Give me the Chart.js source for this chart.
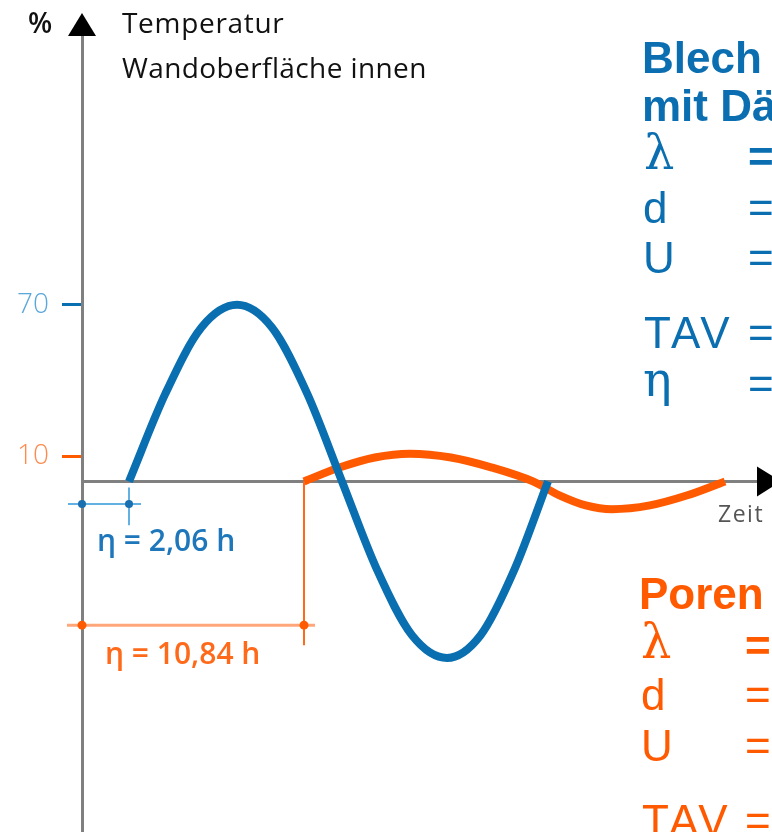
<!DOCTYPE html>
<html lang="de">
<head>
<meta charset="utf-8">
<title>Temperatur Wandoberfläche innen</title>
<script src="https://cdn.jsdelivr.net/npm/chart.js@4"></script>
<style>
  html, body { margin: 0; padding: 0; background: #fff; }
  body { position: relative; width: 772px; height: 832px; overflow: hidden; }
  #chart { position: absolute; left: 0; top: 0; }
  .lbl { position: absolute; white-space: nowrap; line-height: 1; }
  .din { font-family: 'Open Sans', sans-serif; }
  .arial { font-family: 'Liberation Sans', Arial, sans-serif; font-size: 44px; font-kerning: none; }
  .sym { font-family: 'DejaVu Serif', 'Liberation Serif', serif; font-size: 48px; }
  .blue { color: #0a6eb0; }
  .orange { color: #ff5a00; }
  b { font-weight: 700; }
</style>
</head>
<body>
<canvas id="chart" width="772" height="832"></canvas>

<div class="lbl din" style="left:28px; top:8px; font-size:28px; font-weight:600; color:#111">%</div>
<div class="lbl din" style="left:122px; top:8px; font-size:28px; letter-spacing:0.7px; color:#111">Temperatur</div>
<div class="lbl din" style="left:122px; top:53px; font-size:28px; letter-spacing:0.4px; color:#111">Wandoberfläche innen</div>
<div class="lbl din" style="left:718px; top:502px; font-size:23px; letter-spacing:1.5px; color:#555">Zeit</div>
<div class="lbl din" style="left:97px; top:525px; font-size:30px; font-weight:600; color:#1e77ba">η = 2,06 h</div>
<div class="lbl din" style="left:105px; top:638px; font-size:30px; font-weight:600; color:#ff6a1a">η = 10,84 h</div>

<div class="lbl arial blue" style="left:642px; top:36px"><b>Blech</b></div>
<div class="lbl arial blue" style="left:642px; top:84px"><b>mit Dä</b></div>
<div class="lbl sym blue" style="left:644px; top:128px">λ</div>
<div class="lbl arial blue" style="left:748px; top:135px"><b>=</b></div>
<div class="lbl arial blue" style="left:643px; top:186px">d</div>
<div class="lbl arial blue" style="left:748px; top:186px">=</div>
<div class="lbl arial blue" style="left:643px; top:236px">U</div>
<div class="lbl arial blue" style="left:748px; top:236px">=</div>
<div class="lbl arial blue" style="left:644px; top:311px">TAV</div>
<div class="lbl arial blue" style="left:748px; top:311px">=</div>
<div class="lbl sym blue" style="left:643px; top:355px">η</div>
<div class="lbl arial blue" style="left:748px; top:362px">=</div>

<div class="lbl arial orange" style="left:639px; top:572px"><b>Poren</b></div>
<div class="lbl sym orange" style="left:641px; top:617px">λ</div>
<div class="lbl arial orange" style="left:745px; top:624px"><b>=</b></div>
<div class="lbl arial orange" style="left:641px; top:673px">d</div>
<div class="lbl arial orange" style="left:745px; top:673px">=</div>
<div class="lbl arial orange" style="left:641px; top:724px">U</div>
<div class="lbl arial orange" style="left:745px; top:724px">=</div>
<div class="lbl arial orange" style="left:642px; top:799px">TAV</div>
<div class="lbl arial orange" style="left:745px; top:799px">=</div>

<script>
// time in hours, temperature amplitude in %
const blueHours = [2.35, 4.18, 5.97, 7.75, 9.5, 11.25, 13.0, 14.75, 16.5, 18.25, 19.93, 21.62, 23.3];
const blueTemp = [0, 35, 61, 70, 61, 35, 0, -35, -61, -70, -61, -35, 0];

const orangeHours = [11.1, 12.87, 14.64, 16.4, 18.45, 20.5, 22.55, 23.87, 25.19, 26.5, 28.39, 30.27, 32.15];
const orangeTemp = [0, 5.5, 9.5, 11, 9.5, 5.5, 0, -5.5, -9.5, -11, -9.5, -5.5, 0];

const yTicks = [10, 70];

const BLUE = '#0a6fb0';
const ORANGE = '#ff5a00';

function toPoints(xs, ys) {
  return xs.map((x, i) => ({ x: x, y: ys[i] }));
}

function line(ctx, x1, y1, x2, y2) {
  ctx.beginPath();
  ctx.moveTo(x1, y1);
  ctx.lineTo(x2, y2);
  ctx.stroke();
}

function dot(ctx, x, y, r) {
  ctx.beginPath();
  ctx.arc(x, y, r, 0, Math.PI * 2);
  ctx.fill();
}

const axisLine = {
  id: 'axisLine',
  beforeDatasetsDraw(chart) {
    const { ctx, chartArea, scales: { y } } = chart;
    const y0 = y.getPixelForValue(0);
    ctx.save();
    ctx.strokeStyle = '#808080';
    ctx.lineWidth = 3;
    line(ctx, chartArea.left, y0, chartArea.right, y0);
    ctx.restore();
  }
};

const decor = {
  id: 'decor',
  afterDatasetsDraw(chart) {
    const { ctx, chartArea, scales: { x, y } } = chart;
    const y0 = y.getPixelForValue(0);
    const ax = chartArea.left;
    ctx.save();

    // arrow heads
    ctx.fillStyle = '#000';
    ctx.beginPath();
    ctx.moveTo(ax, 13);
    ctx.lineTo(ax + 14, 36);
    ctx.lineTo(ax - 14, 36);
    ctx.closePath();
    ctx.fill();

    ctx.beginPath();
    ctx.moveTo(chartArea.right, y0 - 15);
    ctx.lineTo(chartArea.right + 24, y0);
    ctx.lineTo(chartArea.right, y0 + 15);
    ctx.closePath();
    ctx.fill();

    // phase shift of the blue curve
    const bx = x.getPixelForValue(blueHours[0]);
    const by = y.getPixelForValue(-9);
    ctx.strokeStyle = '#62b1e2';
    ctx.lineWidth = 2;
    line(ctx, x.getPixelForValue(-0.7), by, bx + 12, by);
    line(ctx, bx, y.getPixelForValue(-2.4), bx, y.getPixelForValue(-17.4));
    ctx.fillStyle = '#1a6fb0';
    dot(ctx, ax, by, 4);
    dot(ctx, bx, by, 4);

    // phase shift of the orange curve
    const ox = x.getPixelForValue(orangeHours[0]);
    const oy = y.getPixelForValue(-57);
    ctx.strokeStyle = '#ff6a1a';
    ctx.lineWidth = 2;
    line(ctx, ox, y0, ox, y.getPixelForValue(-65));
    ctx.strokeStyle = '#ffa77a';
    ctx.lineWidth = 3;
    line(ctx, x.getPixelForValue(-0.75), oy, ox + 11, oy);
    ctx.fillStyle = ORANGE;
    dot(ctx, ax, oy, 4.5);
    dot(ctx, ox, oy, 4.5);

    ctx.restore();
  }
};

new Chart(document.getElementById('chart'), {
  type: 'line',
  data: {
    datasets: [
      {
        label: 'Blech mit Dämmung',
        data: toPoints(blueHours, blueTemp),
        borderColor: BLUE,
        borderWidth: 8,
        pointRadius: 0,
        cubicInterpolationMode: 'monotone',
        fill: false
      },
      {
        label: 'Poren',
        data: toPoints(orangeHours, orangeTemp),
        borderColor: ORANGE,
        borderWidth: 8,
        pointRadius: 0,
        cubicInterpolationMode: 'monotone',
        fill: false
      }
    ]
  },
  options: {
    responsive: false,
    animation: false,
    devicePixelRatio: 1,
    layout: { padding: { top: 35, right: 15, bottom: 0, left: 0 } },
    plugins: {
      legend: { display: false },
      tooltip: { enabled: false }
    },
    scales: {
      x: {
        type: 'linear',
        display: false,
        min: 0,
        max: 33.75
      },
      y: {
        type: 'linear',
        position: 'left',
        min: -139,
        max: 177,
        afterFit(scale) {
          scale.width = 82;
          scale.paddingTop = 0;
          scale.paddingBottom = 0;
        },
        afterBuildTicks(scale) {
          scale.ticks = yTicks.map(v => ({ value: v }));
        },
        border: { display: true, color: '#808080', width: 3 },
        grid: {
          drawOnChartArea: false,
          drawTicks: true,
          tickLength: 20,
          lineWidth: 3,
          tickWidth: 3,
          tickColor: ctx => (ctx.tick && ctx.tick.value === 70 ? BLUE : ORANGE)
        },
        ticks: {
          autoSkip: false,
          padding: 13,
          color: ctx => (ctx.tick && ctx.tick.value === 70 ? '#5aa7dc' : '#ff8a4d'),
          font: { family: 'Open Sans', size: 28, weight: 300 }
        }
      }
    }
  },
  plugins: [axisLine, decor]
});
</script>
</body>
</html>
